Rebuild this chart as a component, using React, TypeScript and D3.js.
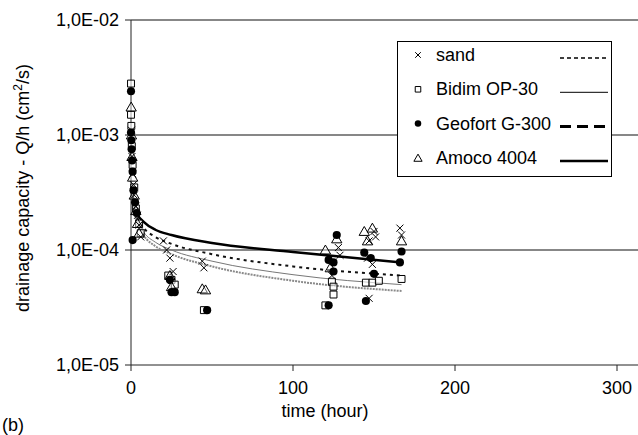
import React, { useRef, useEffect } from "react";
import * as d3 from "d3";

// measured points: [time (hour), drainage capacity Q/h (cm2/s)]
const sandPoints = [
  [0.3, 1.1e-3], [0.6, 6.5e-4], [1, 4.6e-4], [1.5, 3.7e-4], [2, 3.0e-4], [3, 2.4e-4],
  [4, 2.0e-4], [5, 1.65e-4], [6, 1.3e-4],
  [20, 1.2e-4], [22, 1.0e-4], [24, 8.5e-5], [26, 6.5e-5],
  [44, 8.0e-5], [45, 7.0e-5],
  [128, 1.05e-4], [129, 9.0e-5], [124, 6.0e-5],
  [150, 1.45e-4], [151, 1.3e-4], [147, 1.2e-4], [146, 8.5e-5], [149, 7.5e-5], [147, 3.8e-5],
  [166, 1.55e-4], [167, 1.35e-4],
];

const bidimPoints = [
  [0, 2.8e-3], [0, 1.5e-3], [0.2, 1.2e-3], [0.5, 8e-4], [1, 5.5e-4], [2, 3.5e-4],
  [3, 2.3e-4], [5, 1.7e-4], [6, 1.4e-4],
  [23, 6.0e-5], [25, 5.5e-5], [27, 5.0e-5],
  [45, 3.0e-5],
  [124, 5.3e-5], [125, 4.8e-5], [125, 4.1e-5], [120, 3.3e-5],
  [145, 5.2e-5], [149, 5.2e-5], [153, 5.4e-5],
  [167, 5.6e-5],
];

const geofortPoints = [
  [0, 2.4e-3], [0, 1.05e-3], [0.2, 9e-4], [0.4, 7.5e-4], [0.7, 6e-4], [1, 4.8e-4],
  [1.5, 3.3e-4], [2.5, 2.6e-4], [3.5, 2.1e-4], [1, 1.22e-4],
  [24, 5.5e-5], [27, 4.3e-5], [25, 4.3e-5],
  [47, 3.0e-5],
  [127, 1.35e-4], [122, 8.2e-5], [125, 7.8e-5], [125, 6.5e-5], [122, 3.3e-5],
  [144, 9.5e-5], [148, 8.5e-5], [150, 6.2e-5], [145, 3.6e-5],
  [167, 9.7e-5], [166, 7.8e-5],
];

const amocoPoints = [
  [0.1, 1.75e-3], [0.3, 1.0e-3], [0.6, 6.5e-4], [1, 4.3e-4], [2, 3.0e-4], [3, 2.2e-4],
  [4, 1.7e-4], [5, 1.4e-4],
  [24, 6.0e-5], [25, 4.8e-5],
  [44, 4.6e-5], [46, 4.5e-5],
  [127, 1.25e-4], [120, 1.0e-4], [123, 7.0e-5],
  [144, 1.45e-4], [149, 1.55e-4], [146, 1.2e-4],
  [167, 1.2e-4],
];

// fitted trend lines
const sandFit = [[1, 2.9e-4], [2, 2.4e-4], [4, 1.9e-4], [8, 1.55e-4], [15, 1.3e-4], [25, 1.13e-4], [50, 9.2e-5], [100, 7.2e-5], [167, 6.0e-5]];
const bidimFit = [[1, 2.8e-4], [2, 2.3e-4], [4, 1.8e-4], [8, 1.42e-4], [15, 1.17e-4], [25, 1.0e-4], [50, 8.0e-5], [100, 6.1e-5], [167, 5.0e-5]];
const geofortFit = [[1, 2.7e-4], [2, 2.2e-4], [4, 1.7e-4], [8, 1.33e-4], [15, 1.08e-4], [25, 9.2e-5], [50, 7.2e-5], [100, 5.4e-5], [167, 4.4e-5]];
const amocoFit = [[1, 3.0e-4], [2, 2.5e-4], [4, 2.05e-4], [8, 1.75e-4], [15, 1.5e-4], [25, 1.35e-4], [50, 1.15e-4], [100, 9.6e-5], [167, 7.8e-5]];

const xTicks = [0, 100, 200, 300];
const yTicks = [1e-5, 1e-4, 1e-3, 1e-2];
const yTickLabels = ["1,0E-05", "1,0E-04", "1,0E-03", "1,0E-02"];
const seriesNames = ["sand", "Bidim OP-30", "Geofort G-300", "Amoco 4004"];

const FONT = "'Liberation Sans', Arial, sans-serif";

const App = () => {
  const svgRef = useRef(null);

  useEffect(() => {
    const svg = d3.select(svgRef.current);
    svg.selectAll("*").remove();

    const W = 638;
    const left = 131;
    const top = 20;
    const bottom = 365;

    const x = d3.scaleLinear().domain([0, 350]).range([left, left + 3.5 * 162]);
    const y = d3.scaleLog().domain([1e-5, 1e-2]).range([bottom, top]);

    // horizontal gridlines
    svg
      .append("g")
      .selectAll("line")
      .data(yTicks.slice(1))
      .enter()
      .append("line")
      .attr("x1", left)
      .attr("x2", W)
      .attr("y1", (d) => y(d))
      .attr("y2", (d) => y(d))
      .attr("stroke", "#111")
      .attr("stroke-width", 1.2);

    // axes
    svg.append("line").attr("x1", left).attr("x2", W).attr("y1", bottom).attr("y2", bottom)
      .attr("stroke", "#222").attr("stroke-width", 1);
    svg.append("line").attr("x1", left).attr("x2", left).attr("y1", top).attr("y2", bottom)
      .attr("stroke", "#222").attr("stroke-width", 1);

    const xt = svg.append("g");
    xTicks.forEach((t) => {
      xt.append("line").attr("x1", x(t)).attr("x2", x(t)).attr("y1", bottom).attr("y2", bottom + 6)
        .attr("stroke", "#222");
      xt.append("text").attr("x", x(t)).attr("y", bottom + 29).attr("text-anchor", "middle")
        .attr("font-family", FONT).attr("font-size", 18).text(t);
    });

    const yt = svg.append("g");
    yTicks.forEach((t, i) => {
      yt.append("line").attr("x1", left - 6).attr("x2", left).attr("y1", y(t)).attr("y2", y(t))
        .attr("stroke", "#222");
      yt.append("text").attr("x", left - 12).attr("y", y(t) + 6).attr("text-anchor", "end")
        .attr("font-family", FONT).attr("font-size", 18).text(yTickLabels[i]);
    });

    // axis titles
    svg.append("text").attr("x", 325).attr("y", 417).attr("text-anchor", "middle")
      .attr("font-family", FONT).attr("font-size", 18).text("time (hour)");

    const yTitle = svg.append("text")
      .attr("transform", "translate(29,188) rotate(-90)")
      .attr("text-anchor", "middle")
      .attr("font-family", FONT)
      .attr("font-size", 18);
    yTitle.append("tspan").text("drainage capacity - Q/h (cm");
    yTitle.append("tspan").attr("dy", -7).attr("font-size", 12).text("2");
    yTitle.append("tspan").attr("dy", 7).text("/s)");

    svg.append("text").attr("x", 2).attr("y", 431).attr("font-family", FONT)
      .attr("font-size", 18).text("(b)");

    // fit curves
    const line = d3.line().x((d) => x(d[0])).y((d) => y(d[1])).curve(d3.curveMonotoneX);
    const fits = [
      { data: geofortFit, stroke: "#8a8a8a", width: 2, dash: "2,1" },
      { data: bidimFit, stroke: "#777", width: 1, dash: null },
      { data: sandFit, stroke: "#111", width: 2, dash: "3,4" },
      { data: amocoFit, stroke: "#000", width: 2.5, dash: null },
    ];
    fits.forEach((f) => {
      svg.append("path").attr("d", line(f.data)).attr("fill", "none")
        .attr("stroke", f.stroke).attr("stroke-width", f.width)
        .attr("stroke-dasharray", f.dash);
    });

    // markers
    const drawMarker = (g, kind, cx, cy, s = 1) => {
      if (kind === "cross") {
        const r = 3.5 * s;
        g.append("path")
          .attr("d", `M${cx - r},${cy - r}L${cx + r},${cy + r}M${cx - r},${cy + r}L${cx + r},${cy - r}`)
          .attr("stroke", "#000").attr("stroke-width", 1).attr("fill", "none");
      } else if (kind === "square") {
        g.append("path").attr("d", d3.symbol(d3.symbolSquare, 48 * s * s)())
          .attr("transform", `translate(${cx},${cy})`)
          .attr("fill", "#fff").attr("fill-opacity", 0.6).attr("stroke", "#000").attr("stroke-width", 1);
      } else if (kind === "circle") {
        g.append("path").attr("d", d3.symbol(d3.symbolCircle, 52 * s * s)())
          .attr("transform", `translate(${cx},${cy})`)
          .attr("fill", "#000");
      } else {
        g.append("path").attr("d", d3.symbol(d3.symbolTriangle, 46 * s * s)())
          .attr("transform", `translate(${cx},${cy + 1})`)
          .attr("fill", "#fff").attr("fill-opacity", 0.4).attr("stroke", "#000").attr("stroke-width", 1);
      }
    };

    const series = [
      { pts: bidimPoints, kind: "square" },
      { pts: amocoPoints, kind: "triangle" },
      { pts: geofortPoints, kind: "circle" },
      { pts: sandPoints, kind: "cross" },
    ];
    const markers = svg.append("g");
    series.forEach((s) => {
      s.pts.forEach((p) => drawMarker(markers, s.kind, x(p[0]), y(p[1])));
    });

    // legend
    const lg = svg.append("g");
    lg.append("rect").attr("x", 397.5).attr("y", 41.5).attr("width", 214).attr("height", 135)
      .attr("fill", "#fff").attr("stroke", "#000").attr("stroke-width", 1);
    const legendKinds = ["cross", "square", "circle", "triangle"];
    const legendLines = [
      { width: 1.5, dash: "4,3" },
      { width: 1, dash: null },
      { width: 3, dash: "11,6" },
      { width: 2.5, dash: null },
    ];
    seriesNames.forEach((name, i) => {
      const cy = 55 + i * 34.3;
      drawMarker(lg, legendKinds[i], 418, cy, 0.8);
      lg.append("text").attr("x", 436).attr("y", cy + 6).attr("font-family", FONT)
        .attr("font-size", 18).text(name);
      lg.append("line").attr("x1", 560).attr("x2", 608).attr("y1", cy + 3).attr("y2", cy + 3)
        .attr("stroke", "#000").attr("stroke-width", legendLines[i].width)
        .attr("stroke-dasharray", legendLines[i].dash);
    });
  }, []);

  return (
    <svg
      ref={svgRef}
      width={638}
      height={435}
      style={{ position: "absolute", left: 0, top: 0, background: "#fff" }}
    ></svg>
  );
};

export default App;
